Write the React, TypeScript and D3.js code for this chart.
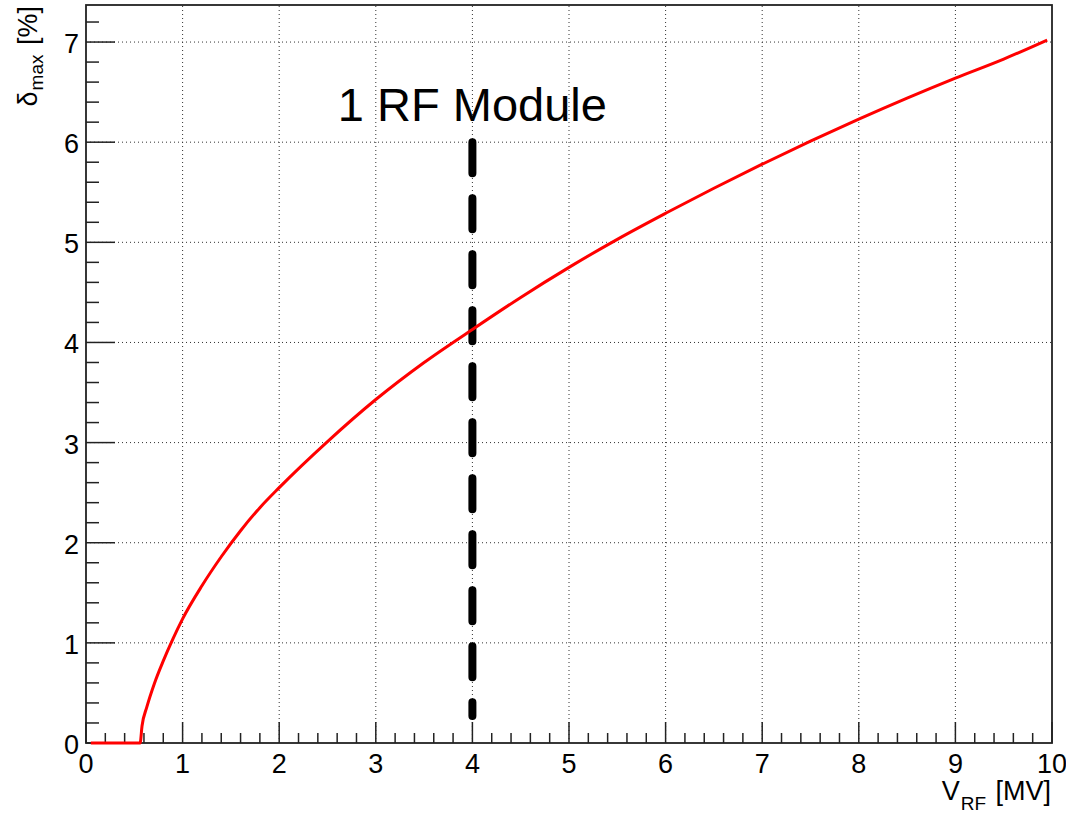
import React from 'react';
import * as d3 from 'd3';

// Maximum momentum acceptance versus RF voltage
const vrf = [
  0.05, 0.56, 0.58, 0.63, 0.71, 0.8, 0.9, 1.0, 1.2, 1.4, 1.6, 1.8, 2.0,
  2.5, 3.0, 3.5, 4.0, 4.5, 5.0, 5.5, 6.0, 6.5, 7.0, 7.5, 8.0, 8.5, 9.0,
  9.5, 9.95,
];
const deltaMax = [
  0, 0, 0.17, 0.36, 0.6, 0.82, 1.04, 1.24, 1.57, 1.86, 2.12, 2.35, 2.55,
  3.01, 3.43, 3.8, 4.13, 4.45, 4.75, 5.03, 5.29, 5.54, 5.78, 6.01, 6.23, 6.44,
  6.64, 6.83, 7.02,
];

const xTickValues = [0, 1, 2, 3, 4, 5, 6, 7, 8, 9, 10];
const xTickLabels = ['0', '1', '2', '3', '4', '5', '6', '7', '8', '9', '10'];
const yTickValues = [0, 1, 2, 3, 4, 5, 6, 7];
const yTickLabels = ['0', '1', '2', '3', '4', '5', '6', '7'];

// Marker for one RF module
const moduleVoltage = 4;
const moduleLineTop = 6.0;
const moduleLineBottom = 0.27;
const moduleLabel = '1 RF Module';
const moduleLabelDelta = 6.21;

const X_DOMAIN: [number, number] = [0, 10];
const Y_DOMAIN: [number, number] = [0, 7.37];

const W = 1066;
const H = 814;
const frame = { left: 86, right: 1052, top: 5, bottom: 743 };
const FONT = '"Liberation Sans", Arial, Helvetica, sans-serif';
const AXIS_COLOR = '#222';

export default function App() {
  const x = d3.scaleLinear().domain(X_DOMAIN).range([frame.left, frame.right]);
  const y = d3.scaleLinear().domain(Y_DOMAIN).range([frame.bottom, frame.top]);

  const curve = d3
    .line<number>()
    .x((_, i) => x(vrf[i]))
    .y((d) => y(d))
    .curve(d3.curveMonotoneX)(deltaMax) as string;

  const xMinor = d3.range(0, 10.001, 0.2).filter((v) => Math.abs(v - Math.round(v)) > 1e-6);
  const yMinor = d3
    .range(0, Y_DOMAIN[1], 0.2)
    .filter((v) => Math.abs(v - Math.round(v)) > 1e-6);

  return (
    <svg
      width={W}
      height={H}
      style={{ position: 'absolute', left: 0, top: 0, background: '#fff' }}
      fontFamily={FONT}
    >
      <rect x={0} y={0} width={W} height={H} fill="#fff" />

      {/* grid */}
      <g stroke="#333" strokeWidth={1} strokeDasharray="1 3">
        {xTickValues
          .filter((v) => v > X_DOMAIN[0] && v < X_DOMAIN[1])
          .map((v) => (
            <line key={`gx${v}`} x1={x(v)} x2={x(v)} y1={frame.bottom} y2={frame.top} />
          ))}
        {yTickValues
          .filter((v) => v > Y_DOMAIN[0])
          .map((v) => (
            <line key={`gy${v}`} x1={frame.left} x2={frame.right} y1={y(v)} y2={y(v)} />
          ))}
      </g>

      {/* one-module marker */}
      <line
        x1={x(moduleVoltage)}
        x2={x(moduleVoltage)}
        y1={y(moduleLineTop)}
        y2={y(moduleLineBottom)}
        stroke="#000"
        strokeWidth={8}
        strokeLinecap="round"
        strokeDasharray="31 25"
      />
      <text
        x={x(moduleVoltage)}
        y={y(moduleLabelDelta)}
        fontSize={47}
        textAnchor="middle"
        fill="#000"
      >
        {moduleLabel}
      </text>

      {/* ticks */}
      <g stroke={AXIS_COLOR} strokeWidth={1.5}>
        {xTickValues.map((v) => (
          <line key={`tx${v}`} x1={x(v)} x2={x(v)} y1={frame.bottom} y2={frame.bottom - 21} />
        ))}
        {xMinor.map((v) => (
          <line key={`mx${v}`} x1={x(v)} x2={x(v)} y1={frame.bottom} y2={frame.bottom - 10} />
        ))}
        {yTickValues.map((v) => (
          <line key={`ty${v}`} x1={frame.left} x2={frame.left + 29} y1={y(v)} y2={y(v)} />
        ))}
        {yMinor.map((v) => (
          <line key={`my${v}`} x1={frame.left} x2={frame.left + 13} y1={y(v)} y2={y(v)} />
        ))}
      </g>

      {/* frame */}
      <rect
        x={frame.left}
        y={frame.top}
        width={frame.right - frame.left}
        height={frame.bottom - frame.top}
        fill="none"
        stroke={AXIS_COLOR}
        strokeWidth={1.8}
      />

      {/* data curve */}
      <path d={curve} fill="none" stroke="#ff0000" strokeWidth={3} strokeLinejoin="round" />

      {/* tick labels */}
      <g fontSize={27} fill="#000">
        {xTickValues.map((v, i) => (
          <text key={`lx${v}`} x={x(v)} y={frame.bottom + 30} textAnchor="middle">
            {xTickLabels[i]}
          </text>
        ))}
        {yTickValues.map((v, i) => (
          <text key={`ly${v}`} x={frame.left - 7} y={y(v) + 11} textAnchor="end">
            {yTickLabels[i]}
          </text>
        ))}
      </g>

      {/* axis titles */}
      <text x={frame.right - 1} y={800} textAnchor="end" fontSize={27} fill="#000">
        V
        <tspan fontSize={19} dy={10} dx={1}>
          RF
        </tspan>
        <tspan dy={-10} dx={2}>
          {' [MV]'}
        </tspan>
      </text>
      <text
        transform={`translate(37, ${frame.top + 1}) rotate(-90)`}
        textAnchor="end"
        fontSize={27}
        fill="#000"
      >
        δ
        <tspan fontSize={19} dy={6} dx={1}>
          max
        </tspan>
        <tspan dy={-6} dx={2}>
          {' [%]'}
        </tspan>
      </text>
    </svg>
  );
}
